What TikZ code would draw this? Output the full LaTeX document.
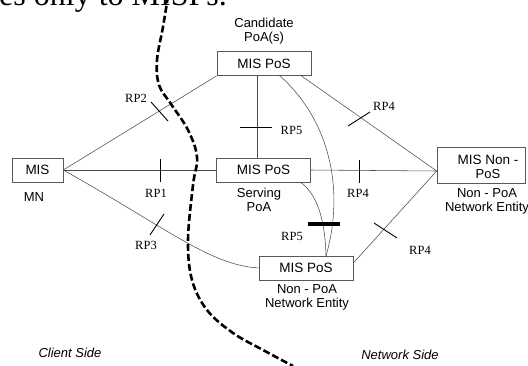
\documentclass[tikz,border=0pt]{standalone}
\usepackage{fontspec}
\setmainfont{Liberation Serif}
\setsansfont{Liberation Sans}
\usetikzlibrary{calc}
\begin{document}
\begin{tikzpicture}[x=1pt,y=-1pt,
  misbox/.style={draw=black!65, line width=0.6pt, minimum width=#1, minimum height=24pt,
    inner sep=0pt, font=\sffamily\fontsize{13.5}{14}\selectfont},
  misbox/.default=94pt,
  caption/.style={font=\sffamily\fontsize{13}{14}\selectfont, align=center, inner sep=0pt},
  rp/.style={font=\fontsize{12.5}{12.5}\selectfont, inner sep=0pt},
  link/.style={draw=black!70, line width=0.55pt},
  tick/.style={draw=black, line width=0.9pt},
  side/.style={font=\sffamily\itshape\fontsize{13}{13}\selectfont, inner sep=0pt},
  boundary/.style={draw=black, line width=2.6pt, dash pattern=on 7pt off 3pt}
]
\clip (0,0) rectangle (528,365);
\useasboundingbox (0,0) rectangle (528,365);

% running text above the figure
\node[anchor=base west, inner sep=0pt, font=\fontsize{32}{32}\selectfont] (runin) at (-1,5) {es only to MISPs.};

% MIS entities
\node[misbox=51pt]  (mn)     at (37.5,170)  {MIS};
\node[misbox]       (cand)   at (264,63.5)  {MIS PoS};
\node[misbox]       (serv)   at (263.5,170) {MIS PoS};
\node[misbox]       (nonpoa) at (306,268)   {MIS PoS};
\node[misbox=88pt, minimum height=36pt] (nonpos) at (481,165) {};
\node[caption] (nonpostxt) at (488,167) {\fontsize{13.5}{15}\selectfont MIS Non -\\PoS};

% captions
\node[caption] (candcap)   at (264,31)  {Candidate\\PoA(s)};
\node[caption] (mncap)     at (34,197)  {MN};
\node[caption] (servcap)   at (259,200) {Serving\\PoA};
\node[caption] (nonpoacap) at (307,297) {Non - PoA\\Network Entity};
\node[caption] (nonposcap) at (487,201) {Non - PoA\\Network Entity};

% attachment points
\coordinate (npin)  at ([yshift=-6pt]nonpos.west);
\coordinate (cvert) at (257,75);
\coordinate (sdown) at (257,158);
\coordinate (ctop)  at ([xshift=-10pt]cand.south east);
\coordinate (ccrv)  at (279,75);
\coordinate (scrv)  at (300,182);
\coordinate (ntop)  at (326,256);
\coordinate (nright) at ([yshift=5pt]nonpoa.east);

% reference points
\draw[link] (mn.east) -- (cand.south west);
\draw[link] (mn.east) -- (serv.west);
\draw[link] (mn.east) .. controls (170,230) and (210,265) .. (nonpoa.west);
\draw[link] (cvert) -- (sdown);
\draw[link] (ctop) -- (npin);
\draw[link] (ccrv) .. controls (330,120) and (345,190) .. (ntop);
\draw[link] (scrv) .. controls (315,192) and (325,215) .. (ntop);
\draw[link] (serv.east) -- (npin);
\draw[link] (nright) -- (npin);

% interface ticks
\draw[tick] (151,102) -- (168,121);
\draw[tick] (160,159) -- (160,182);
\draw[tick] (164,214) -- (150,235);
\draw[tick] (240,127) -- (272,127);
\draw[tick] (348,126) -- (370,112);
\draw[tick] (359,160) -- (359,183);
\draw[tick] (374,223) -- (397,238);
\draw[draw=black, line width=4pt] (308,224) -- (340,224);

% interface labels
\node[rp] (rp2)  at (136,98)   {RP2};
\node[rp] (rp1)  at (156,193)  {RP1};
\node[rp] (rp3)  at (146,245)  {RP3};
\node[rp] (rp5a) at (291.5,130) {RP5};
\node[rp] (rp4a) at (384,106)  {RP4};
\node[rp] (rp4b) at (358,193)  {RP4};
\node[rp] (rp4c) at (420,250)  {RP4};
\node[rp] (rp5b) at (292,236)  {RP5};

% client / network boundary
\draw[boundary] plot[smooth, tension=0.6] coordinates {(168,-4) (163,27) (157,60) (159,85) (171,104) (188,130) (197,157) (193,185) (188,240) (192,280) (207,310) (233,333) (263,350) (293,366)};

\node[side] (client)  at (70,353)  {Client Side};
\node[side] (network) at (400,355) {Network Side};
\end{tikzpicture}
\end{document}
